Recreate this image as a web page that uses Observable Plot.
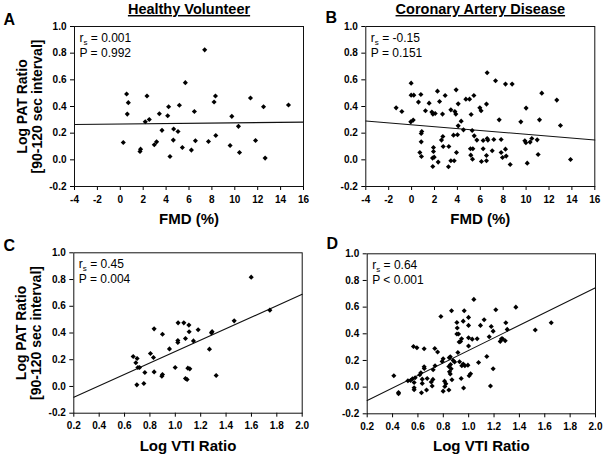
<!DOCTYPE html>
<html><head><meta charset="utf-8">
<script src="https://cdn.jsdelivr.net/npm/d3@7"></script>
<script src="https://cdn.jsdelivr.net/npm/@observablehq/plot@0.6"></script>
<style>
body{margin:0;background:#fff;}
#chart{position:relative;width:604px;height:457px;overflow:hidden;background:#fff;}
#chart svg{position:absolute;}
</style></head><body><div id="chart"></div>
<script>
// ---- data ----
const titles = ["Healthy Volunteer", "Coronary Artery Disease"];
const letters = ["A", "B", "C", "D"];
const yTicks = [-0.2, 0.0, 0.2, 0.4, 0.6, 0.8, 1.0];
const fmdTicks = [-4, -2, 0, 2, 4, 6, 8, 10, 12, 14, 16];
const vtiTicks = [0.2, 0.4, 0.6, 0.8, 1.0, 1.2, 1.4, 1.6, 1.8, 2.0];
const yLabelLines = ["Log PAT Ratio", "[90-120 sec interval]"];
const xLabels = ["FMD (%)", "Log VTI Ratio"];

const statsA = ["r_s = 0.001", "P = 0.992"];
const statsB = ["r_s = -0.15", "P = 0.151"];
const statsC = ["r_s = 0.45", "P = 0.004"];
const statsD = ["r_s = 0.64", "P < 0.001"];

// regression line end points
const fmdLineX = [-4, 16];
const lineA = [0.265, 0.283];
const lineB = [0.291, 0.149];
const vtiLineX = [0.2, 2.0];
const lineC = [-0.080, 0.689];
const lineD = [-0.100, 0.745];

// [FMD %, Log PAT ratio]
const pointsA = [[0.55,0.494],[0.70,0.429],[0.61,0.343],[0.26,0.130],[2.33,0.479],[2.18,0.286],[2.53,0.303],[1.77,0.080],[1.72,0.063],[2.97,0.113],[3.17,0.135],[3.41,0.346],[3.64,0.221],[4.22,0.398],[4.14,0.331],[4.34,0.025],[4.66,0.231],[4.63,0.148],[5.04,0.213],[5.16,0.409],[5.42,0.093],[5.68,0.579],[6.47,0.363],[6.21,0.073],[6.56,0.143],[7.70,0.138],[8.34,0.183],[8.31,0.479],[8.19,0.434],[9.74,0.326],[9.59,0.108],[10.32,0.251],[10.41,0.055],[11.37,0.464],[11.81,0.145],[12.51,0.398],[12.65,0.013],[14.69,0.411],[7.37,0.825]];

const pointsB = [[-0.04,0.575],[-0.04,0.485],[0.19,0.485],[0.81,0.490],[0.60,0.433],[-1.35,0.390],[-0.85,0.363],[2.26,0.515],[2.93,0.483],[2.44,0.438],[1.53,0.425],[1.21,0.368],[1.77,0.358],[1.86,0.343],[2.06,0.348],[2.70,0.343],[3.43,0.375],[3.89,0.525],[4.07,0.420],[3.78,0.363],[3.86,0.343],[4.74,0.455],[5.06,0.455],[5.44,0.483],[5.20,0.340],[5.96,0.390],[-0.07,0.285],[0.14,0.298],[4.07,0.255],[4.33,0.290],[4.53,0.225],[5.29,0.220],[0.89,0.213],[0.84,0.198],[0.84,0.135],[0.72,0.055],[0.86,0.025],[1.91,0.093],[1.91,0.063],[1.83,0.013],[1.97,0.020],[1.85,-0.050],[2.32,-0.017],[2.61,0.148],[2.73,0.175],[2.76,0.100],[3.25,0.100],[3.22,-0.052],[3.43,-0.007],[3.72,-0.007],[3.66,0.185],[4.01,0.188],[3.92,0.055],[5.14,0.083],[5.35,0.083],[5.17,0.035],[5.32,0.005],[5.47,0.180],[5.70,0.148],[6.60,0.653],[7.33,0.593],[8.20,0.568],[8.78,0.568],[11.37,0.500],[12.68,0.448],[6.54,0.418],[6.07,0.368],[10.0,0.388],[7.65,0.300],[9.54,0.285],[11.17,0.300],[13.0,0.258],[6.25,0.145],[6.60,0.160],[6.66,0.148],[7.18,0.153],[7.82,0.153],[6.25,0.083],[6.54,0.033],[7.04,0.068],[6.10,-0.012],[6.54,-0.007],[7.82,0.055],[8.20,0.080],[7.94,0.018],[8.26,0.028],[8.61,-0.035],[9.89,0.143],[9.98,0.128],[10.35,0.133],[10.50,0.160],[10.97,0.150],[11.05,0.040],[10.10,-0.025],[13.88,0.003]];

// [Log VTI ratio, Log PAT ratio]
const pointsC = [[1.598,0.818],[1.745,0.571],[1.464,0.491],[1.285,0.401],[1.29,0.41],[1.18,0.424],[1.107,0.459],[1.067,0.476],[1.022,0.476],[1.109,0.409],[1.08,0.359],[1.143,0.341],[1.02,0.344],[1.02,0.329],[0.833,0.431],[0.899,0.391],[0.954,0.281],[1.269,0.279],[0.804,0.247],[0.828,0.217],[0.668,0.224],[0.699,0.209],[0.689,0.177],[0.705,0.142],[0.718,0.142],[0.76,0.104],[0.833,0.109],[0.999,0.142],[0.899,0.090],[0.894,0.077],[1.099,0.137],[1.114,0.132],[1.08,0.060],[1.093,0.052],[1.322,0.082],[0.697,0.012],[0.752,0.022]];

const pointsD = [[1.041,0.658],[0.865,0.573],[0.965,0.573],[0.781,0.530],[0.999,0.523],[0.957,0.495],[0.907,0.485],[0.999,0.463],[0.910,0.443],[0.907,0.398],[0.920,0.398],[0.944,0.363],[0.936,0.343],[0.925,0.338],[0.999,0.370],[1.028,0.360],[0.565,0.305],[0.592,0.295],[0.649,0.288],[0.733,0.290],[0.755,0.263],[0.999,0.308],[0.915,0.260],[0.855,0.228],[0.847,0.220],[0.799,0.213],[0.791,0.193],[0.878,0.200],[0.889,0.188],[0.928,0.190],[0.735,0.160],[0.720,0.130],[0.957,0.173],[0.970,0.160],[0.946,0.160],[0.994,0.165],[0.857,0.170],[0.844,0.155],[0.862,0.138],[0.649,0.153],[0.650,0.140],[0.623,0.108],[0.615,0.093],[0.849,0.115],[0.855,0.098],[1.015,0.100],[1.004,0.085],[0.410,0.085],[0.521,0.048],[0.542,0.050],[0.557,0.063],[0.578,0.070],[0.570,0.035],[0.634,0.060],[0.673,0.065],[0.718,0.058],[0.705,0.038],[0.634,0.028],[0.570,-0.005],[0.570,-0.020],[0.668,-0.022],[0.628,-0.042],[0.712,0.008],[0.810,0.045],[0.820,0.025],[0.812,0.005],[0.844,-0.022],[0.799,-0.030],[0.868,0.055],[0.941,0.065],[0.960,-0.007],[0.447,-0.040],[0.447,-0.050],[1.372,0.600],[1.214,0.580],[1.122,0.505],[1.093,0.463],[1.178,0.455],[1.293,0.483],[1.193,0.420],[1.304,0.433],[1.651,0.483],[1.525,0.428],[1.067,0.363],[1.162,0.378],[1.249,0.343],[1.267,0.363],[1.288,0.348],[1.259,0.363],[1.078,0.185],[1.143,0.230],[1.193,0.138],[1.172,0.008]];

// ---- drawing ----
const FONT = "Liberation Sans, Arial, Helvetica, sans-serif";

function panel(cfg) {
  const pts = cfg.points.map(([x, y]) => ({x, y}));
  const line = cfg.lineX.map((x, i) => ({x, y: cfg.lineY[i]}));
  const marks = [
    Plot.line(line, {x: "x", y: "y", stroke: "#111", strokeWidth: 1.1}),
    Plot.dot(pts, {x: "x", y: "y", symbol: "diamond2", r: 2.3, fill: "black", stroke: "none"}),
    Plot.frame({stroke: "#111", strokeWidth: 1}),
    Plot.text([cfg.stats[0]], {frameAnchor: "top-left", textAnchor: "start", lineAnchor: "middle", dx: 5, dy: 11.5, fontSize: 12, fontWeight: "normal"}),
    Plot.text([cfg.stats[1]], {frameAnchor: "top-left", textAnchor: "start", lineAnchor: "middle", dx: 5, dy: 26.5, fontSize: 12, fontWeight: "normal"}),
    Plot.text([cfg.letter], {frameAnchor: "top-left", textAnchor: "start", lineAnchor: "bottom", dx: cfg.letterDx, dy: cfg.letterDy, fontSize: 16, fontWeight: "bold"}),
    Plot.text([cfg.xLabel], {frameAnchor: "bottom", textAnchor: "middle", lineAnchor: "bottom", dy: 37.5, fontSize: 15, fontWeight: "bold"})
  ];
  if (cfg.title) marks.push(Plot.text([cfg.title], {frameAnchor: "top", textAnchor: "middle", lineAnchor: "bottom", dy: -12.5, fontSize: 14.5, fontWeight: "bold"}));
  if (cfg.yLabel) {
    marks.push(Plot.text([yLabelLines[0]], {frameAnchor: "left", rotate: -90, textAnchor: "middle", lineAnchor: "middle", dx: -52, fontSize: 14, fontWeight: "bold"}));
    marks.push(Plot.text([yLabelLines[1]], {frameAnchor: "left", rotate: -90, textAnchor: "middle", lineAnchor: "middle", dx: -37, fontSize: 14, fontWeight: "bold"}));
  }
  const svg = Plot.plot({
    width: cfg.width, height: cfg.height,
    marginLeft: cfg.m[3], marginRight: cfg.m[1], marginTop: cfg.m[0], marginBottom: cfg.m[2],
    style: {fontFamily: FONT, fontSize: "10px", fontWeight: "bold", color: "black", background: "transparent", overflow: "visible"},
    x: {domain: cfg.xDomain, ticks: cfg.xTicks, tickFormat: cfg.xFmt, tickSize: 4, tickPadding: 5, label: null},
    y: {domain: [-0.2, 1.0], ticks: yTicks, tickFormat: d => d.toFixed(1), tickSize: 4, tickPadding: 4, label: null},
    marks
  });
  svg.style.left = cfg.left + "px";
  svg.style.top = cfg.top + "px";
  // subscript s in r_s, underline titles
  d3.select(svg).selectAll("text").each(function () {
    const t = this.textContent;
    if (t.startsWith("r_s")) {
      this.textContent = "";
      const s = d3.select(this);
      s.append("tspan").text("r");
      s.append("tspan").attr("dy", 3).attr("font-size", 8).text("s");
      s.append("tspan").attr("dy", -3).text(t.slice(3));
    } else if (titles.includes(t)) {
      d3.select(this).style("text-decoration", "underline");
    }
  });
  return svg;
}

const root = document.getElementById("chart");
root.appendChild(panel({left: 0, top: 0, width: 310, height: 228, m: [26, 7, 42, 74],
  points: pointsA, lineX: fmdLineX, lineY: lineA, xDomain: [-4, 16], xTicks: fmdTicks, xFmt: d => String(d),
  xLabel: xLabels[0], title: titles[0], letter: letters[0], letterDx: -71, letterDy: -2, stats: statsA, yLabel: true}));
root.appendChild(panel({left: 300, top: 0, width: 304, height: 228, m: [26, 9.7, 42, 65.3],
  points: pointsB, lineX: fmdLineX, lineY: lineB, xDomain: [-4, 16], xTicks: fmdTicks, xFmt: d => String(d),
  xLabel: xLabels[0], title: titles[1], letter: letters[1], letterDx: -40.3, letterDy: -4, stats: statsB, yLabel: false}));
root.appendChild(panel({left: 0, top: 228, width: 310, height: 229, m: [24.3, 8.3, 44.3, 73.3],
  points: pointsC, lineX: vtiLineX, lineY: lineC, xDomain: [0.2, 2.0], xTicks: vtiTicks, xFmt: d => d.toFixed(1),
  xLabel: xLabels[1], title: null, letter: letters[2], letterDx: -70.3, letterDy: -2.3, stats: statsC, yLabel: true}));
root.appendChild(panel({left: 300, top: 228, width: 304, height: 229, m: [25.3, 9, 43.7, 66.7],
  points: pointsD, lineX: vtiLineX, lineY: lineD, xDomain: [0.2, 2.0], xTicks: vtiTicks, xFmt: d => d.toFixed(1),
  xLabel: xLabels[1], title: null, letter: letters[3], letterDx: -40.7, letterDy: -5.3, stats: statsD, yLabel: false}));
</script>
</body></html>
